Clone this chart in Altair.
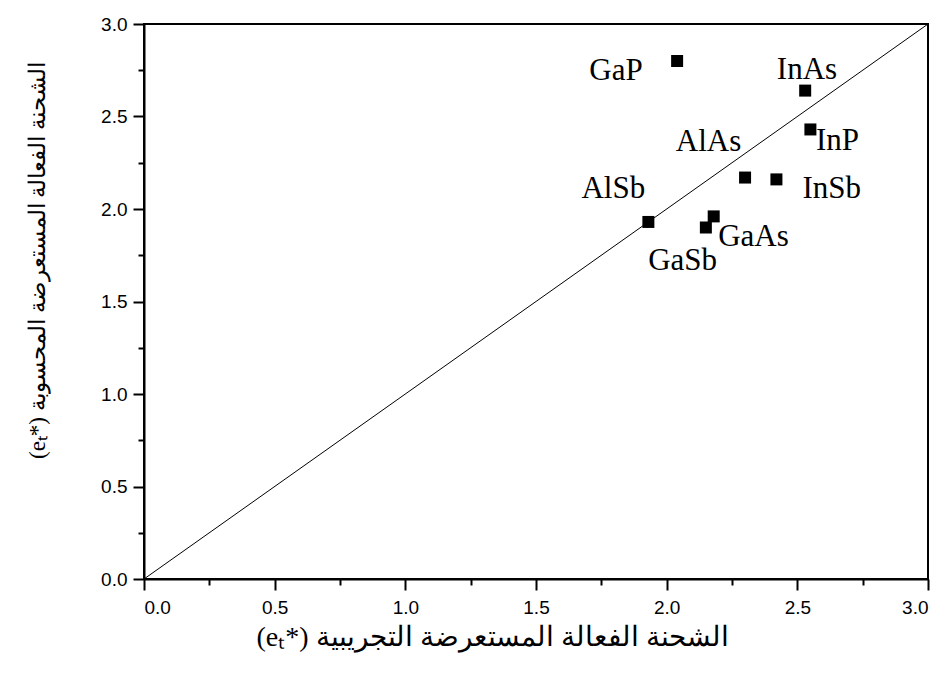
import altair as alt
import pandas as pd

# data
compounds = ["GaP", "InAs", "InP", "AlAs", "InSb", "AlSb", "GaAs", "GaSb"]
experimental = [2.04, 2.53, 2.55, 2.30, 2.42, 1.93, 2.18, 2.15]
calculated = [2.80, 2.64, 2.43, 2.17, 2.16, 1.93, 1.96, 1.90]
# label anchor positions (data units, text baseline)
label_x = [1.806, 2.537, 2.654, 2.160, 2.632, 1.796, 2.332, 2.061]
label_y = [2.697, 2.701, 2.319, 2.315, 2.058, 2.058, 1.800, 1.670]
diag = [0.0, 3.0]
major_ticks = [0.0, 0.5, 1.0, 1.5, 2.0, 2.5, 3.0]
minor_ticks = [0.25, 0.75, 1.25, 1.75, 2.25, 2.75]

x_title = "(eₜ*) الشحنة الفعالة المستعرضة التجريبية"
y_title = "(eₜ*) الشحنة الفعالة المستعرضة المحسوبة"

pts = pd.DataFrame({"name": compounds, "exp": experimental, "calc": calculated})
lbl = pd.DataFrame({"name": compounds, "lx": label_x, "ly": label_y})
line_df = pd.DataFrame({"a": diag, "b": diag})

W, H = 784, 555
scale = alt.Scale(domain=[0, 3], nice=False, zero=False)

common = dict(
    domainColor="black", domainWidth=2, tickColor="black", tickWidth=2,
    grid=False, labelFont="Liberation Sans", labelFontSize=19,
    labelColor="black", titleFont="Liberation Serif", titleColor="black",
    titleFontWeight="normal",
)

x_major = alt.Axis(
    orient="bottom", values=major_ticks, format=".1f", tickSize=11,
    title=x_title, titleFontSize=28, titleX=348, titleY=58,
    titleBaseline="middle", titleAlign="center", labelPadding=8,
    labelAngle=0, **common,
)
y_major = alt.Axis(
    orient="left", values=major_ticks, format=".1f", tickSize=11,
    title=y_title, titleFontSize=23, titleX=-107, titleY=236,
    titleBaseline="middle", titleAlign="center", titleAngle=270,
    labelPadding=6, **common,
)
x_minor = alt.Axis(
    orient="bottom", values=minor_ticks, tickSize=6, labels=False,
    domain=False, title=None, grid=False, tickColor="black", tickWidth=2,
)
y_minor = alt.Axis(
    orient="left", values=minor_ticks, tickSize=6, labels=False,
    domain=False, title=None, grid=False, tickColor="black", tickWidth=2,
)

line = alt.Chart(line_df).mark_line(color="black", strokeWidth=1).encode(
    x=alt.X("a:Q", scale=scale, axis=x_major),
    y=alt.Y("b:Q", scale=scale, axis=y_major),
)

points = alt.Chart(pts).mark_square(size=144, color="black", opacity=1, filled=True).encode(
    x=alt.X("exp:Q", scale=scale, axis=x_minor),
    y=alt.Y("calc:Q", scale=scale, axis=y_minor),
)

labels = alt.Chart(lbl).mark_text(
    font="Liberation Serif", fontSize=31, color="black",
    align="center", baseline="alphabetic",
).encode(
    x=alt.X("lx:Q", scale=scale, axis=None),
    y=alt.Y("ly:Q", scale=scale, axis=None),
    text="name:N",
)

chart = alt.layer(line, points, labels).resolve_axis(
    x="independent", y="independent"
).properties(
    width=W, height=H,
    autosize=alt.AutoSizeParams(type="none"),
    padding={"left": 144, "top": 24, "right": 19, "bottom": 94},
    background="white",
).configure_view(
    stroke="black", strokeWidth=2,
)

chart.save("out.html", embed_options={"renderer": "svg", "actions": False})
